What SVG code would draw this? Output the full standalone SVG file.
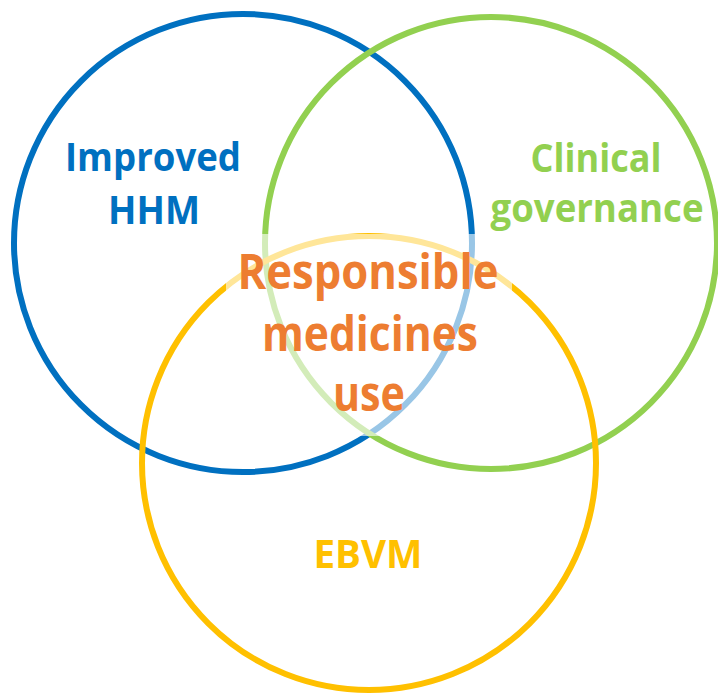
<svg xmlns="http://www.w3.org/2000/svg" width="718" height="693" viewBox="0 0 718 693">
<style>
.c{fill:none;stroke-width:6}
.t{font-family:"Open Sans","Liberation Sans",sans-serif;font-weight:bold;text-anchor:middle}
</style>
<rect width="718" height="693" fill="#fff"/>
<g id="circle-hhm"><circle class="c" cx="243" cy="243" r="229" stroke="#0070C0"/></g>
<g id="circle-clinical"><circle class="c" cx="491" cy="243" r="226" stroke="#92D050"/></g>
<g id="circle-ebvm"><circle class="c" cx="369" cy="463" r="227" stroke="#FFC000"/></g>
<rect x="226" y="234" width="286" height="202" fill="#fff" fill-opacity="0.6"/>
<g id="label-hhm" fill="#0070C0" class="t" font-size="39">
<text x="153" y="171" textLength="176" lengthAdjust="spacingAndGlyphs">Improved</text>
<text x="154" y="224" textLength="92" lengthAdjust="spacingAndGlyphs">HHM</text>
</g>
<g id="label-clinical" fill="#92D050" class="t" font-size="39">
<text x="596" y="172" textLength="131" lengthAdjust="spacingAndGlyphs">Clinical</text>
<text x="597" y="222" textLength="213" lengthAdjust="spacingAndGlyphs">governance</text>
</g>
<g id="label-center" fill="#ED7D31" class="t" font-size="48">
<text x="368" y="289" textLength="261" lengthAdjust="spacingAndGlyphs">Responsible</text>
<text x="370" y="351" textLength="216" lengthAdjust="spacingAndGlyphs">medicines</text>
<text x="369" y="411" textLength="72" lengthAdjust="spacingAndGlyphs">use</text>
</g>
<g id="label-ebvm" fill="#FFC000" class="t" font-size="39">
<text x="368" y="568" textLength="109" lengthAdjust="spacingAndGlyphs">EBVM</text>
</g>
<g id="connectors"></g>
</svg>
